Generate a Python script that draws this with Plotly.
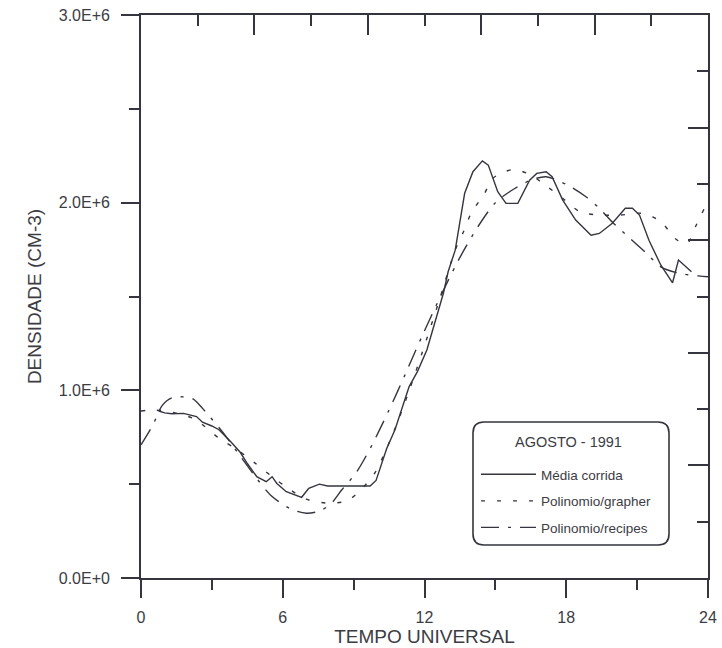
import plotly.graph_objects as go

# Hour of day (UT) and electron density (units of 1e6 cm^-3)
media_h = [0.75, 1.0, 1.3, 1.8, 2.35, 2.6, 3.0, 3.3, 3.8, 4.2, 4.5, 4.9, 5.3, 5.55,
           5.75, 6.15, 6.8, 7.1, 7.55, 7.9, 8.5, 9.0, 9.7, 9.95, 10.4, 10.75, 11.35,
           11.7, 12.1, 12.8, 13.0, 13.3, 13.5, 13.7, 14.05, 14.45, 14.7, 14.9, 15.1,
           15.45, 15.95, 16.45, 16.75, 17.15, 17.4, 17.85, 18.4, 19.05, 19.4, 19.95,
           20.5, 20.8, 21.1, 21.5, 22.0, 22.5, 22.75, 23.3]
media_v = [0.89, 0.88, 0.875, 0.877, 0.86, 0.83, 0.81, 0.79, 0.726, 0.67, 0.61, 0.54,
           0.513, 0.54, 0.504, 0.46, 0.43, 0.478, 0.50, 0.49, 0.49, 0.49, 0.49, 0.52,
           0.69, 0.79, 1.02, 1.10, 1.215, 1.517, 1.632, 1.747, 1.89, 2.05, 2.165, 2.223,
           2.2, 2.13, 2.058, 1.996, 1.996, 2.12, 2.156, 2.165, 2.138, 2.014, 1.907,
           1.827, 1.836, 1.89, 1.97, 1.97, 1.934, 1.80, 1.668, 1.573, 1.694, 1.632]

grapher_h = [0, 0.5, 1.0, 1.6, 2.3, 3.3, 4.0, 4.8, 5.5, 6.2, 7.0, 7.8, 8.7, 9.3, 9.9,
             10.7, 11.3, 11.9, 12.6, 13.3, 13.65, 14.0, 14.5, 14.9, 15.4, 15.8, 16.5,
             17.2, 17.85, 18.6, 19.5, 20.3, 21.2, 22.0, 22.6, 23.1, 23.5, 24]
grapher_v = [0.89, 0.895, 0.89, 0.875, 0.845, 0.745, 0.69, 0.615, 0.545, 0.48, 0.42,
             0.40, 0.41, 0.47, 0.56, 0.78, 0.98, 1.2, 1.47, 1.747, 1.845, 1.95, 2.04,
             2.13, 2.165, 2.177, 2.147, 2.085, 2.023, 1.95, 1.934, 1.934, 1.943, 1.90,
             1.81, 1.78, 1.88, 2.01]

recipes_h = [0, 0.5, 0.9, 1.3, 1.8, 2.2, 2.85, 3.5, 4.2, 4.9, 5.5, 6.3, 7.0, 7.5, 8.0,
             8.5, 9.1, 9.7, 10.5, 11.2, 11.9, 12.6, 13.4, 14.25, 15.0, 15.75, 16.5,
             17.15, 18.05, 18.85, 19.4, 20.0, 20.7, 21.4, 22.0, 22.8, 23.6, 24]
recipes_v = [0.71, 0.815, 0.92, 0.96, 0.965, 0.955, 0.868, 0.77, 0.65, 0.53, 0.44,
             0.37, 0.345, 0.355, 0.39, 0.47, 0.56, 0.69, 0.895, 1.09, 1.29, 1.48,
             1.685, 1.87, 2.0, 2.07, 2.12, 2.138, 2.094, 2.03, 1.97, 1.89, 1.81, 1.73,
             1.658, 1.623, 1.61, 1.605]

series_names = ["Média corrida", "Polinomio/grapher", "Polinomio/recipes"]
legend_title = "AGOSTO - 1991"

y_tickvals = [0, 1e6, 2e6, 3e6]
y_ticktext = ["0.0E+0", "1.0E+6", "2.0E+6", "3.0E+6"]
x_tickvals = [0, 6, 12, 18, 24]

INK = "#35353f"
FONT = "Liberation Sans, Arial, sans-serif"
SCALE = 1e6

fig = go.Figure()
fig.add_trace(go.Scatter(
    x=media_h, y=[v * SCALE for v in media_v], mode="lines", name=series_names[0],
    legendgroup="a", line=dict(color=INK, width=1.4)))
fig.add_trace(go.Scatter(
    x=grapher_h, y=[v * SCALE for v in grapher_v], mode="lines", name=series_names[1],
    legendgroup="b", line=dict(color=INK, width=1.4, dash="4px,12px", shape="spline",
                               smoothing=0.8)))
# the recipes fit sits on the mirrored (top/right) axes, which share the same ranges
fig.add_trace(go.Scatter(
    x=recipes_h, y=[v * SCALE for v in recipes_v], mode="lines", name=series_names[2],
    legendgroup="c", xaxis="x2", yaxis="y2",
    line=dict(color=INK, width=1.4, dash="18px,9px,3px,9px", shape="spline",
              smoothing=0.8)))

# plot-area geometry in pixels (used for the rounded legend frame)
L, R, T, B = 141, 14, 15, 70
W, H = 722, 648
pw, ph = W - L - R, H - T - B

def px(xp):
    return (xp - L) / pw

def py(yp):
    return (H - B - yp) / ph

x0, x1, y0, y1, r = 473, 669, 422, 545, 11
rx, ry = r / pw, r / ph
path = (f"M{px(x0)+rx},{py(y0)} L{px(x1)-rx},{py(y0)} Q{px(x1)},{py(y0)} {px(x1)},{py(y0)-ry} "
        f"L{px(x1)},{py(y1)+ry} Q{px(x1)},{py(y1)} {px(x1)-rx},{py(y1)} "
        f"L{px(x0)+rx},{py(y1)} Q{px(x0)},{py(y1)} {px(x0)},{py(y1)+ry} "
        f"L{px(x0)},{py(y0)-ry} Q{px(x0)},{py(y0)} {px(x0)+rx},{py(y0)} Z")

axis_common = dict(showgrid=False, zeroline=False, showline=True, linecolor=INK,
                   linewidth=1.8, tickcolor=INK, tickwidth=1.6, automargin=False)

fig.update_layout(
    width=W, height=H,
    margin=dict(l=L, r=R, t=T, b=B),
    paper_bgcolor="white", plot_bgcolor="white",
    font=dict(family=FONT, color="#3c3c44"),
    showlegend=True,
    legend=dict(
        x=px(476), y=py(459), xanchor="left", yanchor="top",
        bgcolor="rgba(0,0,0,0)", borderwidth=0,
        font=dict(size=13.5), itemwidth=55, tracegroupgap=6,
    ),
    annotations=[dict(text=legend_title, xref="paper", yref="paper",
                      x=px(568), y=py(442), xanchor="center", yanchor="middle",
                      showarrow=False, font=dict(size=14.5))],
    shapes=[dict(type="path", xref="paper", yref="paper", path=path,
                 line=dict(color=INK, width=1.6))],
    xaxis=dict(range=[0, 24], tickvals=x_tickvals, ticks="outside", ticklen=18,
               ticklabelstandoff=6, tickfont=dict(size=16),
               minor=dict(dtick=3, ticks="outside", ticklen=10, tickcolor=INK, tickwidth=1.6),
               title=dict(text="TEMPO UNIVERSAL", font=dict(size=19), standoff=0),
               **axis_common),
    yaxis=dict(range=[0, 3e6], tickvals=y_tickvals, ticktext=y_ticktext,
               ticks="outside", ticklen=18, ticklabelstandoff=8, tickfont=dict(size=16),
               minor=dict(dtick=0.5e6, ticks="outside", ticklen=10, tickcolor=INK, tickwidth=1.6),
               title=dict(text="DENSIDADE (CM-3)", font=dict(size=19), standoff=12),
               **axis_common),
    xaxis2=dict(overlaying="x", side="top", range=[0, 24], tick0=0, dtick=4.8,
                ticks="inside", ticklen=20, showticklabels=False,
                minor=dict(dtick=2.4, ticks="inside", ticklen=11, tickcolor=INK, tickwidth=1.6),
                **axis_common),
    yaxis2=dict(overlaying="y", side="right", range=[0, 3e6], tick0=0, dtick=0.6e6,
                ticks="inside", ticklen=20, showticklabels=False,
                minor=dict(dtick=0.3e6, ticks="inside", ticklen=11, tickcolor=INK, tickwidth=1.6),
                **axis_common),
)

fig.write_html("out.html")
